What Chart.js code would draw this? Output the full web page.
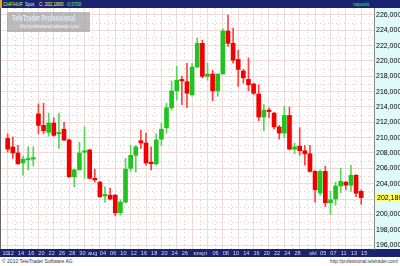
<!DOCTYPE html>
<html>
<head>
<meta charset="utf-8">
<script src="https://cdn.jsdelivr.net/npm/chart.js@4.4.0/dist/chart.umd.min.js"></script>
<style>
  body { margin: 0; width: 400px; height: 266px; overflow: hidden; background: #fff; position: relative;
         font-family: "Liberation Sans", Arial, sans-serif; }
  #head { position: absolute; left: 0; top: 0; width: 400px; height: 8px; background: #1b2270;
          font-size: 6px; line-height: 8px; white-space: nowrap; }
  #head span { position: absolute; top: 0; transform: scaleX(0.75); transform-origin: 0 50%; }
  #head .mark { left: 0; width: 2px; height: 8px; background: #e0a428; transform: none; }
  #foot { position: absolute; left: 0; top: 257px; width: 400px; height: 9px; line-height: 9px; color: #333; white-space: nowrap; }
  #wm { position: absolute; left: 7px; top: 12px; width: 83px; height: 20px; background: rgba(145,145,145,0.62); }
  #wm div { position: absolute; white-space: nowrap; transform-origin: 0 0; }
  #wm .t { left: 5px; top: 1px; font-size: 8.5px; font-weight: bold; color: #dde7f6; line-height: 10px; transform: scaleX(0.66); }
  #wm .u { left: 13px; top: 11px; font-size: 5px; color: #f2f5fa; line-height: 6px; transform: scaleX(0.8); }
  #leftline { position: absolute; left: 0; top: 8px; width: 1px; height: 241px; background: #666; }
  canvas { position: absolute; left: 0; top: 8px; }
</style>
</head>
<body>
<div id="head">
  <span class="mark"></span>
  <span style="left:3px;color:#ccff33">CHF/HUF</span>
  <span style="left:25px;color:#ddeeff">Spot</span>
  <span style="left:39px;color:#ffff55">C: 202,1800</span>
  <span style="left:66px;color:#66ff44">-0,5700</span>
  <span style="left:353px;color:#22ee55">napos/a</span>
</div>
<canvas id="chart" width="400" height="249"></canvas>
<div id="leftline"></div>
<div id="wm"><div class="t">TeleTrader Professional</div><div class="u">http://professional.teletrader.com/</div></div>
<div id="foot">
  <span style="position:absolute;left:2px;font-size:5px">© 2010 TeleTrader Software AG</span>
  <span style="position:absolute;right:2px;font-size:4.6px">http://professional.teletrader.com/</span>
</div>
<script>
// date axis labels and the candle they sit on (-1 = the day before the first candle)
const xTickLabels = ["10","12","14","16","20","22","26","28","30","aug","04","06","10","12","16","18","20","24","26",
  "szept","06","08","10","14","16","20","22","24","28","okt","05","07","11","13","15"];
const xTickCandle = [-1,0,2,4,6,8,10,12,14,16,18,20,22,24,26,28,30,32,34,
  37,40,42,44,46,48,50,52,54,56,59,61,63,65,67,69];

const opens  = [209.9,208.8,208.0,206.7,207.1,207.2,213.1,211.6,210.7,211.9,210.5,211.1,209.7,204.9,205.8,208.1,208.4,204.7,204.2,202.4,
  202.5,202.5,200.2,201.6,206.0,207.7,209.6,209.3,206.8,206.6,209.8,211.3,213.9,216.1,217.5,217.3,215.6,219.2,222.3,218.0,
  218.3,216.1,218.3,223.9,222.3,220.2,218.7,217.6,217.0,215.7,212.7,213.5,213.2,211.4,210.6,212.9,208.5,208.9,208.3,207.9,
  205.6,202.8,205.6,201.5,202.0,203.7,204.2,203.8,205.1,203.0];
const highs  = [210.5,210.1,209.0,207.6,208.8,208.8,214.4,214.5,213.2,212.6,213.2,212.0,209.8,205.9,209.4,211.4,208.5,205.9,204.3,203.6,
  203.4,202.6,201.9,207.3,209.0,209.0,211.0,210.6,208.8,210.5,211.9,214.5,217.4,219.3,218.0,219.7,219.7,223.0,222.7,219.7,
  218.8,218.3,224.2,226.0,224.3,221.4,218.9,220.4,217.1,216.9,214.3,213.9,213.3,211.6,214.1,214.0,209.3,211.3,209.0,209.0,
  205.7,205.8,206.3,203.0,204.2,206.0,204.3,206.4,205.2,203.2];
const lows   = [208.1,207.3,206.5,205.1,205.8,206.3,210.5,210.5,210.2,210.2,208.6,209.6,204.8,203.6,205.8,204.7,204.6,204.2,202.2,201.6,
  201.9,199.8,199.9,201.5,205.6,205.5,208.6,206.4,205.8,206.4,209.0,210.6,213.6,214.9,214.3,213.9,215.4,219.2,217.8,217.5,
  214.8,215.4,218.3,221.9,219.7,216.7,217.1,216.1,215.6,212.2,210.9,212.6,211.1,209.8,210.0,208.4,207.9,207.7,206.4,205.5,
  201.6,202.5,201.0,200.0,201.2,202.8,203.2,203.0,202.3,201.3];
const closes = [208.5,208.0,206.6,207.2,207.2,207.3,211.6,210.9,211.9,210.3,210.6,209.7,204.9,205.8,208.0,208.2,204.7,204.5,202.3,202.6,
  202.0,200.2,201.6,205.9,207.7,208.8,209.3,206.7,206.6,209.7,211.1,213.9,216.1,217.5,217.4,215.8,219.2,222.3,218.0,218.3,
  216.1,218.3,223.9,222.3,220.1,218.9,217.8,216.9,215.8,212.7,213.6,213.4,211.4,210.6,212.9,208.5,208.8,208.3,207.9,205.6,
  203.2,205.6,201.5,201.9,203.7,204.3,203.8,205.1,202.75,202.18];

const yTicks = [196,198,200,202,204,206,208,210,212,214,216,218,220,222,224,226];
const lastPrice = 202.18;

const UP = "#1fc41f", DOWN = "#f00000";
const UP_WICK = "#55d655", DOWN_WICK = "#ff4040";
const GRID = "#efd9d9";
const FONT = "'Liberation Sans', Arial, sans-serif";

// one empty slot before, two after
const pad = a => [null].concat(a, [null, null]);
const labels = pad(opens.map(() => "")).map(() => "");
xTickCandle.forEach((c, k) => { labels[c + 1] = xTickLabels[k]; });
const up = opens.map((o, i) => closes[i] >= o);

const fmt = v => v.toFixed(4).replace(".", ",");

const bgPlugin = {
  id: "bg",
  beforeDraw(chart) {
    const c = chart.ctx, y = chart.scales.y, x = chart.scales.x;
    c.save();
    c.fillStyle = "#e0fafa";
    c.fillRect(y.left, y.top, chart.width - y.left, y.bottom - y.top);
    c.fillStyle = "#1b2270";
    c.fillRect(0, x.top, chart.width, chart.height - x.top);
    c.restore();
  },
  beforeDatasetsDraw(chart) {
    // dotted minor grid
    const c = chart.ctx, y = chart.scales.y, x = chart.scales.x, a = chart.chartArea;
    c.save();
    c.strokeStyle = "#e9caca";
    c.lineWidth = 1;
    c.setLineDash([1, 3]);
    for (let i = 0; i < yTicks.length - 1; i++) {
      const py = Math.round(y.getPixelForValue(yTicks[i] + 1)) + 0.5;
      c.beginPath(); c.moveTo(a.left, py); c.lineTo(a.right, py); c.stroke();
    }
    for (let i = 1; i < labels.length; i += 3) {
      const px = Math.round(x.getPixelForValue(i + 1.5)) + 0.5;
      if (px > a.right) break;
      c.beginPath(); c.moveTo(px, a.top); c.lineTo(px, a.bottom); c.stroke();
    }
    c.restore();
  },
  afterDraw(chart) {
    const c = chart.ctx, y = chart.scales.y;
    const py = Math.round(y.getPixelForValue(lastPrice));
    c.save();
    c.fillStyle = "#ffff66";
    c.fillRect(y.left + 1, py - 4, chart.width - y.left - 1, 8);
    c.fillStyle = "#000";
    c.font = "7px " + FONT;
    c.textBaseline = "middle";
    c.fillText(fmt(lastPrice), y.left + 3, py);
    c.restore();
  }
};

new Chart(document.getElementById("chart"), {
  type: "bar",
  data: {
    labels: labels,
    datasets: [
      {
        label: "body",
        data: pad(opens.map((o, i) => [o, closes[i]])),
        backgroundColor: pad(up.map(u => u ? UP : DOWN)),
        barThickness: 4,
        minBarLength: 1.5,
        grouped: false
      },
      {
        label: "wick",
        data: pad(lows.map((l, i) => [l, highs[i]])),
        backgroundColor: pad(up.map(u => u ? UP_WICK : DOWN_WICK)),
        barThickness: 1,
        grouped: false
      }
    ]
  },
  options: {
    responsive: false,
    animation: false,
    devicePixelRatio: 1,
    layout: { padding: 0 },
    plugins: { legend: { display: false }, tooltip: { enabled: false } },
    scales: {
      x: {
        offset: true,
        grid: {
          offset: false,
          drawTicks: false,
          color: ctx => (ctx.index % 3 === 1 ? GRID : "rgba(0,0,0,0)")
        },
        border: { display: false },
        ticks: {
          autoSkip: false, maxRotation: 0, padding: 1, labelOffset: 3,
          color: "#d8dcf0",
          font: { family: FONT, size: 5.6 }
        },
        afterFit: s => { s.height = 8; s.paddingLeft = 0; s.paddingRight = 0; }
      },
      y: {
        position: "right",
        min: 195.48,
        max: 226.91,
        afterBuildTicks: s => { s.ticks = yTicks.map(v => ({ value: v })); },
        grid: { color: GRID, drawTicks: false },
        border: { color: "#888", width: 1 },
        ticks: {
          padding: 2,
          color: "#000",
          callback: v => fmt(v),
          font: { family: FONT, size: 7 }
        },
        afterFit: s => { s.width = 26; s.paddingTop = 0; s.paddingBottom = 0; }
      }
    }
  },
  plugins: [bgPlugin]
});
</script>
</body>
</html>
